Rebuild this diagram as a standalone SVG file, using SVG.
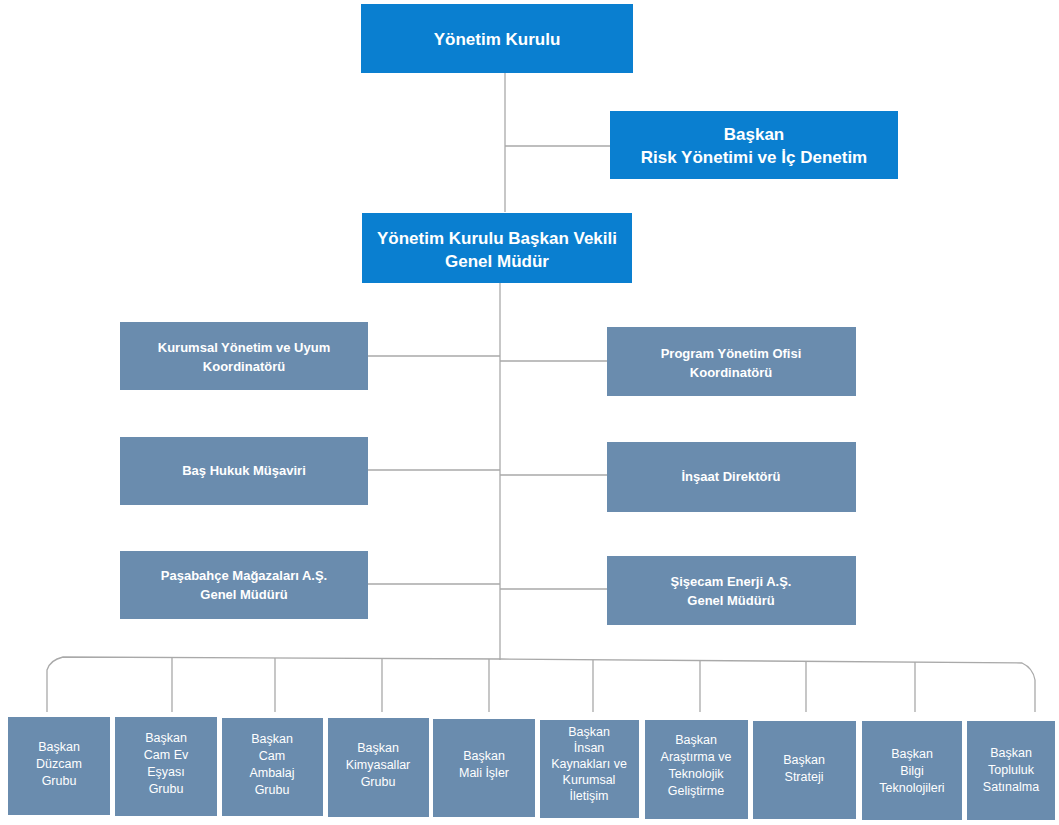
<svg xmlns="http://www.w3.org/2000/svg" width="1059" height="825" viewBox="0 0 1059 825">
<style>
.blue{fill:#0a7fd0}
.grey{fill:#6a8cae}
.tb{font-family:"Liberation Sans",Arial,sans-serif;font-weight:bold;fill:#fff;text-anchor:middle;font-size:17px}
.tm{font-family:"Liberation Sans",Arial,sans-serif;font-weight:bold;fill:#fff;text-anchor:middle;font-size:13px}
.ts{font-family:"Liberation Sans",Arial,sans-serif;fill:#fff;text-anchor:middle;font-size:12.5px}
.ln{stroke:#a9a9a9;stroke-width:1.3;fill:none}
</style>
<rect width="1059" height="825" fill="#fff"/>
<g id="connectors">
<path class="ln" d="M505 73V212"/>
<path class="ln" d="M505 146H610"/>
<path class="ln" d="M500 283V660"/>
<path class="ln" d="M368 356H500M500 361H607"/>
<path class="ln" d="M368 470H500M500 475H607"/>
<path class="ln" d="M368 584H500M500 589H607"/>
<path class="ln" d="M47 712V670Q50 660 63 657L500 659L1022 663Q1033 668 1035 680V712"/>
<path class="ln" d="M172 657V712M275 658V712M382 658V712M489 659V712M593 660V712M700 661V712M806 661V712M915 662V712"/>
</g>
<g id="n1"><rect class="blue" x="361" y="4" width="272" height="69"/><text class="tb" x="497" y="45">Yönetim Kurulu</text></g>
<g id="n2"><rect class="blue" x="610" y="111" width="288" height="68"/><text class="tb" x="754" y="140">Başkan</text><text class="tb" x="754" y="163">Risk Yönetimi ve İç Denetim</text></g>
<g id="n3"><rect class="blue" x="362" y="213" width="270" height="70"/><text class="tb" x="497" y="244">Yönetim Kurulu Başkan Vekili</text><text class="tb" x="497" y="267">Genel Müdür</text></g>
<g id="n4"><rect class="grey" x="120" y="322" width="248" height="68"/><text class="tm" x="244" y="352">Kurumsal Yönetim ve Uyum</text><text class="tm" x="244" y="371">Koordinatörü</text></g>
<g id="n5"><rect class="grey" x="607" y="327" width="249" height="69"/><text class="tm" x="731" y="358">Program Yönetim Ofisi</text><text class="tm" x="731" y="377">Koordinatörü</text></g>
<g id="n6"><rect class="grey" x="120" y="437" width="248" height="68"/><text class="tm" x="244" y="475">Baş Hukuk Müşaviri</text></g>
<g id="n7"><rect class="grey" x="607" y="442" width="249" height="70"/><text class="tm" x="731" y="481">İnşaat Direktörü</text></g>
<g id="n8"><rect class="grey" x="120" y="551" width="248" height="68"/><text class="tm" x="244" y="580">Paşabahçe Mağazaları A.Ş.</text><text class="tm" x="244" y="599">Genel Müdürü</text></g>
<g id="n9"><rect class="grey" x="607" y="556" width="249" height="69"/><text class="tm" x="731" y="586">Şişecam Enerji A.Ş.</text><text class="tm" x="731" y="605">Genel Müdürü</text></g>
<g id="b1"><rect class="grey" x="8" y="717" width="102" height="98"/><text class="ts" x="59" y="751">Başkan</text><text class="ts" x="59" y="768">Düzcam</text><text class="ts" x="59" y="785">Grubu</text></g>
<g id="b2"><rect class="grey" x="115" y="717" width="102" height="99"/><text class="ts" x="166" y="742">Başkan</text><text class="ts" x="166" y="759">Cam Ev</text><text class="ts" x="166" y="776">Eşyası</text><text class="ts" x="166" y="793">Grubu</text></g>
<g id="b3"><rect class="grey" x="222" y="718" width="101" height="98"/><text class="ts" x="272" y="743">Başkan</text><text class="ts" x="272" y="760">Cam</text><text class="ts" x="272" y="777">Ambalaj</text><text class="ts" x="272" y="794">Grubu</text></g>
<g id="b4"><rect class="grey" x="328" y="718" width="101" height="99"/><text class="ts" x="378" y="752">Başkan</text><text class="ts" x="378" y="769">Kimyasallar</text><text class="ts" x="378" y="786">Grubu</text></g>
<g id="b5"><rect class="grey" x="433" y="719" width="102" height="98"/><text class="ts" x="484" y="760">Başkan</text><text class="ts" x="484" y="777">Mali İşler</text></g>
<g id="b6"><rect class="grey" x="540" y="720" width="99" height="98"/><text class="ts" x="589" y="736">Başkan</text><text class="ts" x="589" y="752">İnsan</text><text class="ts" x="589" y="768">Kaynakları ve</text><text class="ts" x="589" y="784">Kurumsal</text><text class="ts" x="589" y="800">İletişim</text></g>
<g id="b7"><rect class="grey" x="645" y="720" width="103" height="99"/><text class="ts" x="696" y="744">Başkan</text><text class="ts" x="696" y="761">Araştırma ve</text><text class="ts" x="696" y="778">Teknolojik</text><text class="ts" x="696" y="795">Geliştirme</text></g>
<g id="b8"><rect class="grey" x="753" y="721" width="103" height="98"/><text class="ts" x="804" y="764">Başkan</text><text class="ts" x="804" y="781">Strateji</text></g>
<g id="b9"><rect class="grey" x="862" y="721" width="100" height="99"/><text class="ts" x="912" y="758">Başkan</text><text class="ts" x="912" y="775">Bilgi</text><text class="ts" x="912" y="792">Teknolojileri</text></g>
<g id="b10"><rect class="grey" x="967" y="721" width="88" height="99"/><text class="ts" x="1011" y="757">Başkan</text><text class="ts" x="1011" y="774">Topluluk</text><text class="ts" x="1011" y="791">Satınalma</text></g>
</svg>
